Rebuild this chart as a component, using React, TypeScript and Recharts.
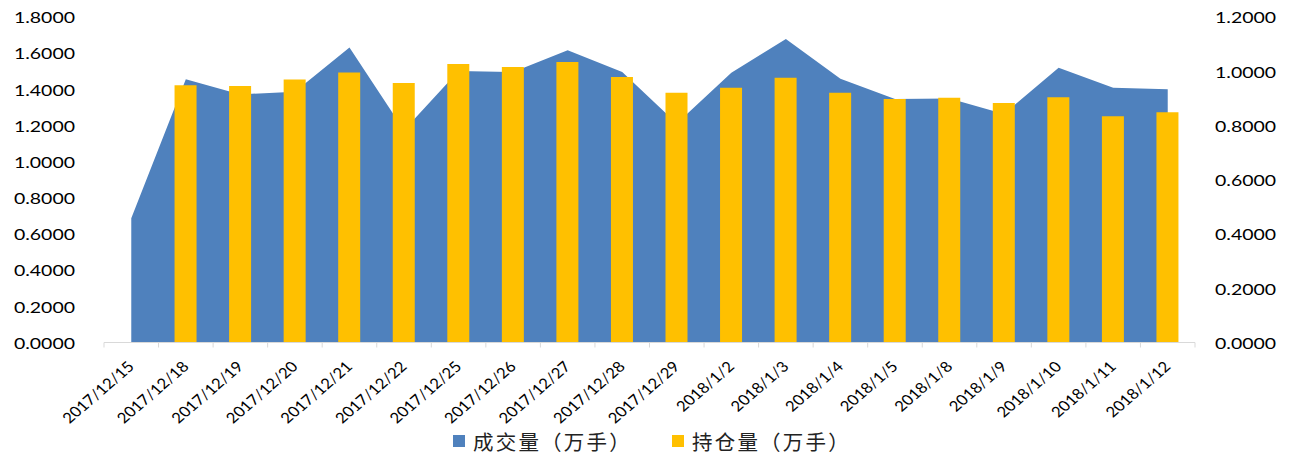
import React from 'react';
import { ComposedChart, Area, Bar, XAxis, YAxis, Legend } from 'recharts';

const dates = [
  '2017/12/15', '2017/12/18', '2017/12/19', '2017/12/20', '2017/12/21',
  '2017/12/22', '2017/12/25', '2017/12/26', '2017/12/27', '2017/12/28',
  '2017/12/29', '2018/1/2', '2018/1/3', '2018/1/4', '2018/1/5',
  '2018/1/8', '2018/1/9', '2018/1/10', '2018/1/11', '2018/1/12',
];

// 成交量（万手）, left axis
const volume = [
  0.687, 1.456, 1.372, 1.387, 1.631, 1.174, 1.502, 1.496, 1.616, 1.496,
  1.211, 1.492, 1.679, 1.459, 1.347, 1.350, 1.264, 1.520, 1.409, 1.400,
];

// 持仓量（万手）, right axis
const openInterest = [
  null, 0.948, 0.946, 0.970, 0.995, 0.957, 1.027, 1.016, 1.034, 0.979,
  0.921, 0.939, 0.976, 0.921, 0.898, 0.902, 0.883, 0.904, 0.834, 0.849,
];

const leftTicks = [0, 0.2, 0.4, 0.6, 0.8, 1.0, 1.2, 1.4, 1.6, 1.8];
const rightTicks = [0, 0.2, 0.4, 0.6, 0.8, 1.0, 1.2];

const volumeName = '成交量（万手）';
const oiName = '持仓量（万手）';
const BLUE = '#4F81BD';
const YELLOW = '#FFC000';

const data = dates.map((d, i) => ({ date: d, volume: volume[i], oi: openInterest[i] }));

const W = 1280;
const H = 446;
const LEFT_W = 96;
const RIGHT_W = 93;
const PLOT_W = W - LEFT_W - RIGHT_W;
const STRETCH = 1.3; // the source picture is stretched sideways

function ValueTick(props: any) {
  const { x, y, payload, textAnchor } = props;
  return (
    <g transform={`translate(${x},${y + 1})`}>
      <text transform={`scale(${STRETCH},1)`} textAnchor={textAnchor} dy="0.35em"
        fontFamily="Lato" fontSize={15} fill="#000">
        {Number(payload.value).toFixed(4)}
      </text>
    </g>
  );
}

function DateTick(props: any) {
  const { x, y, payload } = props;
  const bw = PLOT_W / dates.length;
  const last = payload.value === dates[dates.length - 1];
  return (
    <g>
      <line x1={x - bw / 2} x2={x - bw / 2} y1={y} y2={y + 5} stroke="#D9D9D9" />
      {last && <line x1={x + bw / 2} x2={x + bw / 2} y1={y} y2={y + 5} stroke="#D9D9D9" />}
      <g transform={`translate(${x + 4},${y + 25}) scale(1.16,1) rotate(-45)`}>
        <text textAnchor="end" fontFamily="Lato" fontSize={14.5} fill="#000">{payload.value}</text>
      </g>
    </g>
  );
}

function renderLegend() {
  const items = [
    { name: volumeName, color: BLUE, x: 445 },
    { name: oiName, color: YELLOW, x: 664 },
  ];
  return (
    <div style={{ position: 'relative', width: W, height: 26 }}>
      {items.map((it) => (
        <div key={it.name} style={{ position: 'absolute', left: it.x, top: 0, height: 26,
          display: 'flex', alignItems: 'center', whiteSpace: 'nowrap' }}>
          <span style={{ display: 'inline-block', width: 12, height: 12, background: it.color, marginRight: 8 }} />
          <span style={{ fontFamily: '"Noto Sans CJK SC"', fontSize: 20.5, letterSpacing: 2.2,
            color: '#222', lineHeight: '26px' }}>{it.name}</span>
        </div>
      ))}
    </div>
  );
}

export default function App() {
  return (
    <div style={{ width: W, height: H }}>
      <ComposedChart width={W} height={H} data={data}
        margin={{ top: 9, right: 0, left: 0, bottom: 31.5 }} barSize={22}>
        <XAxis dataKey="date" height={80} interval={0} tickLine={false} tickSize={0} tickMargin={0}
          axisLine={{ stroke: '#D9D9D9' }} tick={<DateTick />} />
        <YAxis yAxisId="left" orientation="left" width={LEFT_W} domain={[0, 1.8]} ticks={leftTicks}
          axisLine={false} tickLine={false} tickSize={0} tickMargin={29} tick={<ValueTick />} />
        <YAxis yAxisId="right" orientation="right" width={RIGHT_W} domain={[0, 1.2]} ticks={rightTicks}
          axisLine={false} tickLine={false} tickSize={0} tickMargin={20} tick={<ValueTick />} />
        <Area yAxisId="left" type="linear" dataKey="volume" name={volumeName} fill={BLUE} fillOpacity={1}
          stroke="none" dot={false} activeDot={false} isAnimationActive={false} />
        <Bar yAxisId="right" dataKey="oi" name={oiName} fill={YELLOW} isAnimationActive={false} />
        <Legend verticalAlign="middle" align="center" layout="horizontal"
          wrapperStyle={{ top: 420, left: 0, width: W, height: 26 }} content={renderLegend} />
      </ComposedChart>
    </div>
  );
}
